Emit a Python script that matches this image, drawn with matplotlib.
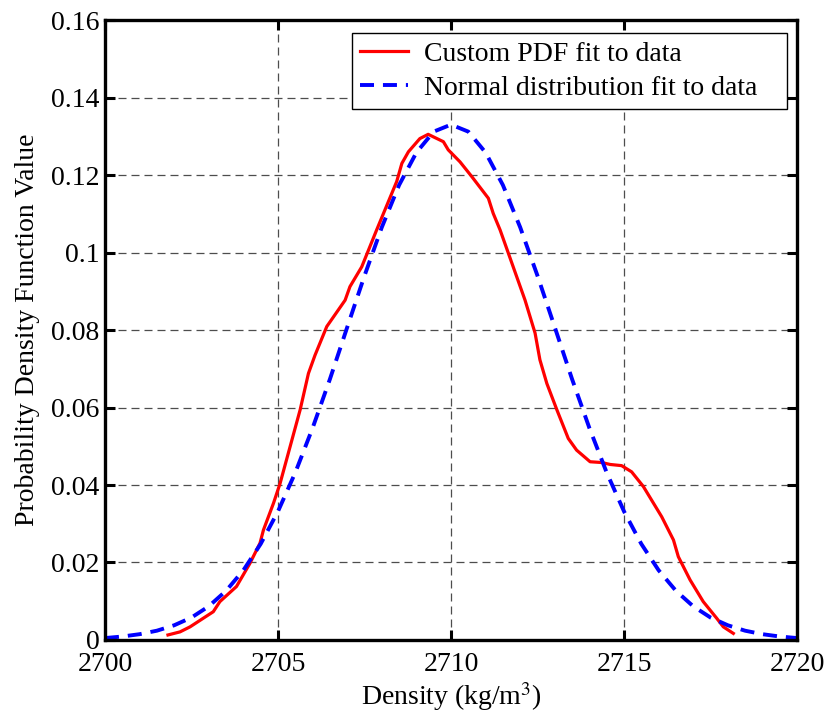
import numpy as np
import matplotlib
matplotlib.use('Agg')
import matplotlib.pyplot as plt

plt.rcParams['font.family'] = ['Liberation Serif', 'DejaVu Serif']
plt.rcParams['mathtext.fontset'] = 'stix'

# custom PDF (red)
x_custom = [2701.82, 2702.17, 2702.46, 2703.13, 2703.32, 2703.80, 2704.19, 2704.48,
            2704.58, 2704.87, 2705.06, 2705.35, 2705.64, 2705.88, 2706.07, 2706.41,
            2706.94, 2707.08, 2707.42, 2707.85, 2708.43, 2708.58, 2708.77, 2709.10,
            2709.34, 2709.78, 2709.92, 2710.26, 2710.60, 2711.08, 2711.22, 2711.42,
            2712.14, 2712.43, 2712.57, 2712.77, 2713.06, 2713.39, 2713.63, 2714.02,
            2714.36, 2714.60, 2714.93, 2715.22, 2715.56, 2716.09, 2716.43, 2716.57,
            2716.91, 2717.29, 2717.68, 2717.87, 2718.16]
y_custom = [0.0013, 0.0021, 0.0034, 0.0073, 0.0099, 0.0138, 0.0198, 0.0250,
            0.0284, 0.0353, 0.0404, 0.0499, 0.0594, 0.0688, 0.0735, 0.0809,
            0.0877, 0.0912, 0.0963, 0.1058, 0.1183, 0.1230, 0.1260, 0.1294,
            0.1305, 0.1286, 0.1265, 0.1234, 0.1196, 0.1140, 0.1101, 0.1058,
            0.0877, 0.0792, 0.0723, 0.0662, 0.0594, 0.0520, 0.0490, 0.0460,
            0.0458, 0.0453, 0.0450, 0.0434, 0.0396, 0.0318, 0.0258, 0.0215,
            0.0155, 0.0099, 0.0056, 0.0034, 0.0017]

# normal fit (blue)
x_normal = [2700, 2700.5, 2701, 2701.5, 2702, 2702.5, 2703, 2703.5, 2704, 2704.5,
            2705, 2705.5, 2706, 2706.5, 2707, 2707.5, 2708, 2708.5, 2709, 2709.5,
            2710, 2710.5, 2711, 2711.5, 2712, 2712.5, 2713, 2713.5, 2714, 2714.5,
            2715, 2715.5, 2716, 2716.5, 2717, 2717.5, 2718, 2718.5, 2719, 2719.5, 2720]
y_normal = [0.0005, 0.0009, 0.0015, 0.0024, 0.0038, 0.0058, 0.0087, 0.0127, 0.0180, 0.0248,
            0.0332, 0.0432, 0.0547, 0.0673, 0.0807, 0.0940, 0.1065, 0.1174, 0.1258, 0.1312,
            0.1330, 0.1312, 0.1258, 0.1174, 0.1065, 0.0940, 0.0807, 0.0673, 0.0547, 0.0432,
            0.0332, 0.0248, 0.0180, 0.0127, 0.0087, 0.0058, 0.0038, 0.0024, 0.0015, 0.0009, 0.0005]

xticks = [2700, 2705, 2710, 2715, 2720]
yticks = [0, 0.02, 0.04, 0.06, 0.08, 0.1, 0.12, 0.14, 0.16]
ytick_labels = ['0', '0.02', '0.04', '0.06', '0.08', '0.1', '0.12', '0.14', '0.16']

fig = plt.figure(figsize=(8.26, 7.15), dpi=100)
ax = fig.add_axes([0.1271, 0.1049, 0.8378, 0.8671])

ax.plot(x_custom, y_custom, color='red', lw=2.3, label='Custom PDF fit to data')
ax.plot(x_normal, y_normal, color='blue', lw=2.8, ls=(0, (3.6, 2.3)),
        label='Normal distribution fit to data')

ax.set_xlim(2700, 2720)
ax.set_ylim(0, 0.16)
ax.set_xticks(xticks)
ax.set_xticklabels([str(t) for t in xticks])
ax.set_yticks(yticks)
ax.set_yticklabels(ytick_labels)
ax.tick_params(direction='in', length=7, width=2.2, labelsize=20,
               top=True, right=True, pad=4)
ax.tick_params(axis='x', pad=9)
for s in ax.spines.values():
    s.set_linewidth(2.4)

ax.grid(True, color='0.3', ls=(0, (6.4, 4)), lw=0.9)

ax.set_xlabel(r'Density (kg/m$^3$)', fontsize=20, labelpad=2)
ax.set_ylabel('Probability Density Function Value', fontsize=20, labelpad=8)

leg = ax.legend(loc='upper left', bbox_to_anchor=(0.357, 0.86, 0.6286, 0.119),
                mode='expand', fontsize=20, fancybox=False, framealpha=1,
                edgecolor='black', handlelength=1.7, borderaxespad=0,
                borderpad=0.3, labelspacing=0.3, handletextpad=0.6)
leg.get_frame().set_linewidth(1.0)

fig.savefig('out.png', dpi=100, facecolor='white')
